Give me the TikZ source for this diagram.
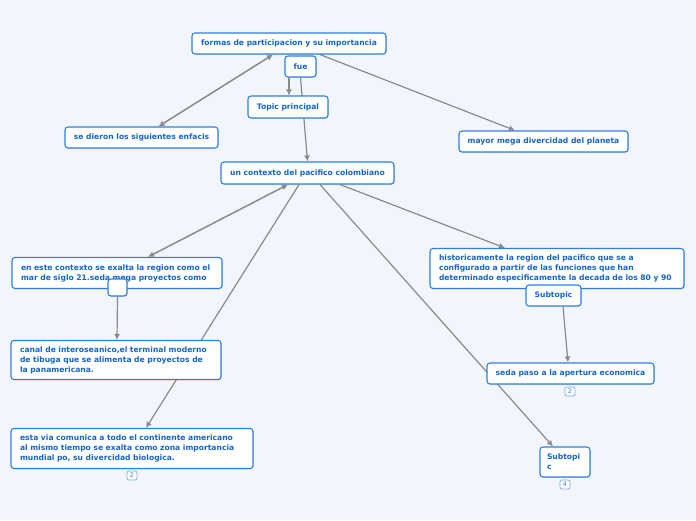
\documentclass[tikz,border=0pt]{standalone}
\usepackage{fontspec}
\setmainfont{DejaVu Sans}
\usetikzlibrary{arrows.meta,shadows}
\definecolor{mmbg}{HTML}{F2F5FC}
\definecolor{mmblue}{HTML}{2B80E2}
\definecolor{mmtext}{HTML}{1466CC}
\definecolor{mmgray}{HTML}{8A8A8A}
\definecolor{mmbadge}{HTML}{7FAEE6}
\pgfdeclarelayer{bg}
\pgfdeclarelayer{lines}
\pgfsetlayers{bg,lines,main}

\begin{document}
\begin{tikzpicture}[x=1pt, y=-1pt,
  topic/.style={draw=mmblue, line width=1.1pt, fill=white, rounded corners=3pt,
                font=\fontsize{7.6}{10}\selectfont\bfseries, text=mmtext, align=center,
                inner sep=0pt, drop shadow={opacity=0.2, shadow xshift=0.8pt, shadow yshift=-0.8pt}},
  para/.style={topic, align=left},
  badge/.style={draw=mmbadge, line width=0.7pt, fill=white, rounded corners=2pt,
                font=\fontsize{6.5}{6.5}\selectfont, text=mmtext!80, minimum width=10pt,
                minimum height=9pt, inner sep=0pt},
  conn/.style={-{Latex[length=6pt,width=6pt]}, mmgray, line width=1.2pt},
  both/.style={conn, {Latex[length=6pt,width=6pt]}-{Latex[length=6pt,width=6pt]}, line width=1.5pt},
]

% background and page size
\begin{pgfonlayer}{bg}
  \fill[mmbg] (0,0) rectangle (696,520);
\end{pgfonlayer}
\useasboundingbox (0,0) rectangle (696,520);

% main topics
\node[topic, minimum width=194pt, minimum height=21pt] (formas) at (289,43.5) {formas de participacion y su importancia};
\node[topic, minimum width=31pt, minimum height=21pt] (fue) at (300.5,66.5) {fue};
\node[topic, minimum width=80pt, minimum height=22pt] (principal) at (288,107) {Topic principal};
\node[topic, minimum width=153pt, minimum height=21pt] (enfacis) at (141.5,137.5) {se dieron los siguientes enfacis};
\node[topic, minimum width=169pt, minimum height=21pt] (planeta) at (543.5,141.5) {mayor mega divercidad del planeta};
\node[topic, minimum width=173pt, minimum height=22pt] (contexto) at (307.5,173) {un contexto del pacifico colombiano};

% left branch
\node[para, minimum width=210pt, minimum height=31pt, text width=192pt] (exalta) at (117,273)
  {en este contexto se exalta la region como el\\mar de siglo 21.seda mega proyectos como};
\node[topic, minimum width=19pt, minimum height=17pt] (vacio) at (117.5,287.5) {};
\node[para, minimum width=210pt, minimum height=39pt, text width=192pt] (canal) at (116,360)
  {canal de interoseanico,el terminal moderno\\de tibuga que se alimenta de proyectos de\\la panamericana.};
\node[para, minimum width=242pt, minimum height=40pt, text width=224pt] (via) at (132,448.5)
  {esta via comunica a todo el continente americano\\al mismo tiempo se exalta como zona importancia\\mundial po, su divercidad biologica.};
\node[badge] (viaB) at (132,475.5) {2};

% right branch
\node[para, minimum width=254pt, minimum height=40pt, text width=236pt] (historia) at (557,268.5)
  {historicamente la region del pacifico que se a\\configurado a partir de las funciones que han\\determinado especificamente la decada de los 80 y 90};
\node[topic, minimum width=55pt, minimum height=21pt] (sub) at (553.5,295.5) {Subtopic};
\node[topic, minimum width=167pt, minimum height=21pt] (apertura) at (570.5,373.5) {seda paso a la apertura economica};
\node[badge] (aperturaB) at (570,391.5) {2};
\node[para, minimum width=50pt, minimum height=30pt, text width=36pt] (subc) at (565,462) {Subtopi\\c};
\node[badge] (subcB) at (565,484.5) {4};

% connectors
\begin{pgfonlayer}{lines}
  \draw[both] ([xshift=-16pt]formas.south) -- ([xshift=17pt]enfacis.north);
  \draw[conn] ([xshift=-11.5pt]fue.south) -- ([xshift=1pt]principal.north);
  \draw[conn] (fue.south) -- (contexto.north);
  \draw[conn] ([xshift=31pt]formas.south) -- ([xshift=-28.5pt]planeta.north);
  \draw[both] ([xshift=-19.5pt]contexto.south) -- ([xshift=31pt]exalta.north);
  \draw[conn] ([xshift=-8.5pt]contexto.south) -- ([xshift=14pt]via.north);
  \draw[conn] ([xshift=12.5pt]contexto.south) -- ([xshift=-12pt]subc.north);
  \draw[conn] ([xshift=32.5pt]contexto.south) -- ([xshift=-52pt]historia.north);
  \draw[conn] (vacio.south) -- ([xshift=1pt]canal.north);
  \draw[conn] ([xshift=9.5pt]sub.south) -- ([xshift=-2.5pt]apertura.north);
\end{pgfonlayer}

\end{tikzpicture}
\end{document}
